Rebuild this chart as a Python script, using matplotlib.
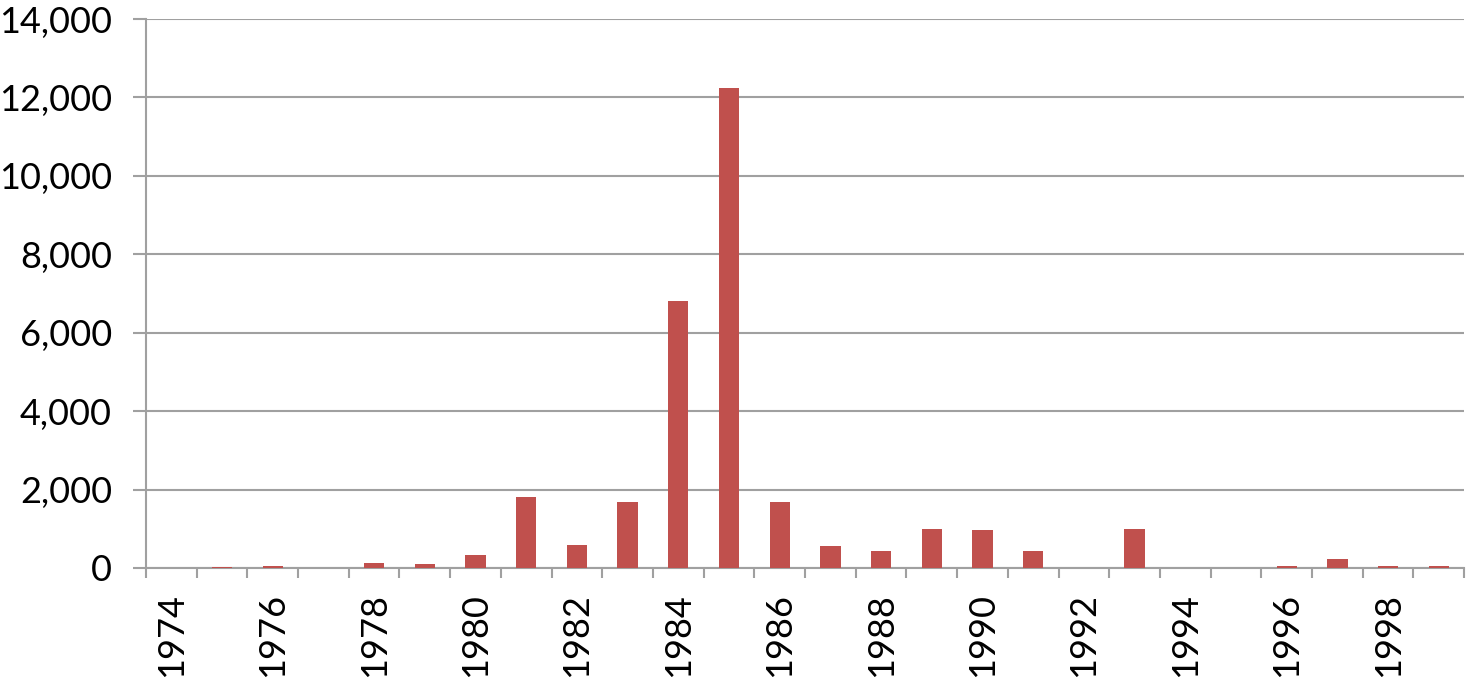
import numpy as np
import matplotlib.pyplot as plt
from matplotlib.ticker import FuncFormatter

years = list(range(1974, 2000))
values = [0, 30, 50, 0, 120, 100, 330, 1800, 590, 1690, 6800, 12250, 1690,
          550, 430, 1000, 970, 430, 0, 990, 0, 0, 60, 230, 40, 60]

GRAY = "#a0a0a0"
plt.rcParams["font.family"] = ["Lato", "DejaVu Sans"]

fig = plt.figure(figsize=(14.7, 6.81), dpi=100)
ax = fig.add_axes([0.0993, 0.166, 0.8967, 0.806])

x = np.arange(len(years))
ax.bar(x, values, width=0.4, color="#c0504d", zorder=3)

ax.set_xlim(-0.5, len(years) - 0.5)
ax.set_ylim(0, 14000)
ax.set_yticks(np.arange(0, 14001, 2000))
ax.yaxis.set_major_formatter(FuncFormatter(lambda v, p: f"{int(v):,}"))
ax.grid(axis="y", color=GRAY, linewidth=1.5, zorder=0)

# labels every other year, tick marks at category edges
ax.set_xticks(x[::2])
ax.set_xticklabels([str(y) for y in years[::2]], rotation=90)
ax.set_xticks(np.arange(-0.5, len(years), 1), minor=True)
ax.tick_params(axis="x", which="major", length=0, labelsize=26, pad=18)
ax.tick_params(axis="x", which="minor", length=7.5, width=1.5, color=GRAY)
ax.tick_params(axis="y", length=9.5, width=1.5, color=GRAY, labelsize=26, pad=15)

for side in ["top", "right"]:
    ax.spines[side].set_visible(False)
for side in ["left", "bottom"]:
    ax.spines[side].set_color(GRAY)
    ax.spines[side].set_linewidth(1.5)

fig.savefig("out.png", dpi=100)
